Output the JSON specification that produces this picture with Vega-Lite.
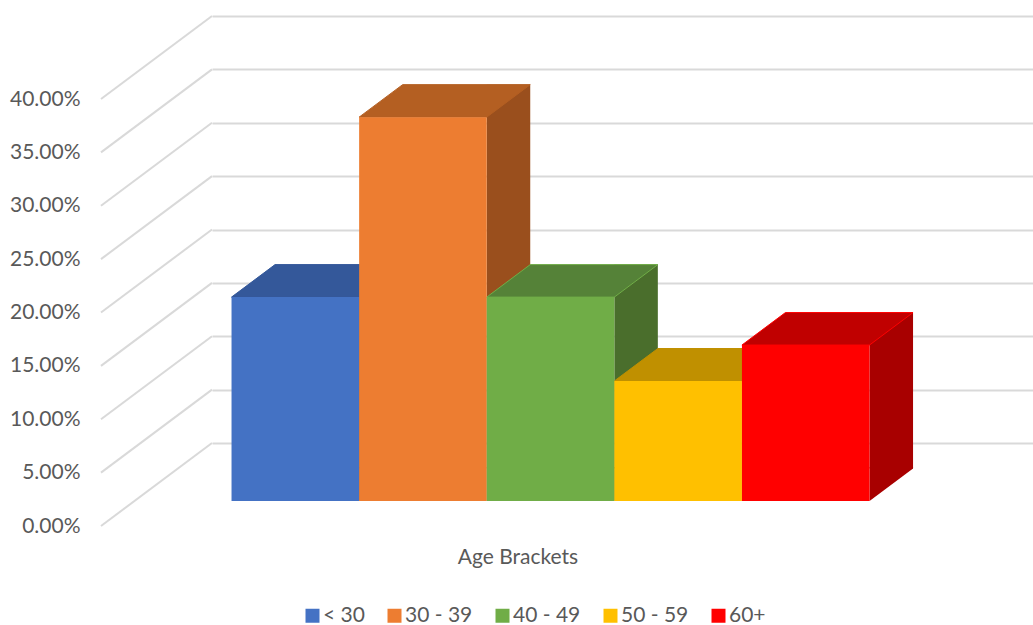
{
  "$schema": "https://vega.github.io/schema/vega-lite/v6.json",
  "width": 821,
  "height": 427,
  "autosize": "none",
  "padding": {"left": 212, "top": 16, "right": 0, "bottom": 182},
  "background": "white",
  "config": {"view": {"stroke": null}, "font": "Lato"},
  "layer": [
    {
      "description": "Side-wall lines running from the front value plane back to the wall",
      "data": {"values": [
        {"tick": 0}, {"tick": 0.05}, {"tick": 0.1}, {"tick": 0.15}, {"tick": 0.2},
        {"tick": 0.25}, {"tick": 0.3}, {"tick": 0.35}, {"tick": 0.4}
      ]},
      "mark": {"type": "rule", "color": "#D9D9D9", "strokeWidth": 2, "xOffset": -111, "yOffset": 83},
      "encoding": {
        "x": {"datum": 0, "type": "quantitative", "scale": {"domain": [0, 1]}, "axis": null},
        "x2": {"datum": 0},
        "y": {
          "field": "tick",
          "type": "quantitative",
          "scale": {"domain": [0, 0.4], "nice": false, "zero": true},
          "axis": {
            "title": null,
            "values": [0, 0.05, 0.1, 0.15, 0.2, 0.25, 0.3, 0.35, 0.4],
            "format": ".2%",
            "grid": true,
            "gridColor": "#D9D9D9",
            "gridWidth": 2,
            "ticks": false,
            "tickSize": 0,
            "domain": false,
            "labelFont": "Lato",
            "labelFontSize": 21,
            "labelColor": "#595959",
            "labelPadding": 132,
            "labelOffset": 83,
            "labelFlush": false,
            "labelOverlap": false,
            "labelBound": false
          }
        },
        "y2": {"field": "tick"}
      }
    },
    {
      "description": "Extruded columns: side faces, top faces, then front faces",
      "data": {"values": [
        {"bracket": "< 30", "share": 0.191},
        {"bracket": "30 - 39", "share": 0.3596},
        {"bracket": "40 - 49", "share": 0.191},
        {"bracket": "50 - 59", "share": 0.1124},
        {"bracket": "60+", "share": 0.1461}
      ]},
      "encoding": {
        "x": {
          "field": "bracket",
          "type": "nominal",
          "sort": null,
          "scale": {"paddingInner": 0, "paddingOuter": 0.717, "align": 0.533},
          "axis": {
            "title": "Age Brackets",
            "labels": false,
            "ticks": false,
            "domain": false,
            "grid": false,
            "titleFont": "Lato",
            "titleFontSize": 21,
            "titleFontWeight": "normal",
            "titleColor": "#595959",
            "titleX": 305.5,
            "titleY": 114,
            "titleBaseline": "middle",
            "titleAlign": "center"
          }
        }
      },
      "layer": [
        {
          "description": "Right-hand side faces (shaded)",
          "mark": {"type": "bar", "width": 43.5, "xOffset": 7.55, "yOffset": 25.5, "y2Offset": 25.5},
          "encoding": {
            "y": {"field": "share", "type": "quantitative"},
            "fill": {
              "condition": [
                {"test": "datum.bracket === '< 30'", "value": "#2C4A7E"},
                {"test": "datum.bracket === '30 - 39'", "value": "#9A4F1D"},
                {"test": "datum.bracket === '40 - 49'", "value": "#4A6E2C"},
                {"test": "datum.bracket === '50 - 59'", "value": "#A07800"}
              ],
              "value": "#A80000"
            }
          }
        },
        {
          "description": "Lower slanted corner of each side face",
          "mark": {
            "type": "point",
            "shape": "M0.638,-0.34L0.638,0L1.073,-0.325L1.073,-0.34Z",
            "size": 40000,
            "filled": true,
            "opacity": 1,
            "strokeWidth": 0,
            "xOffset": -78,
            "yOffset": 58
          },
          "encoding": {
            "y": {"datum": 0, "type": "quantitative"},
            "fill": {
              "condition": [
                {"test": "datum.bracket === '< 30'", "value": "#2C4A7E"},
                {"test": "datum.bracket === '30 - 39'", "value": "#9A4F1D"},
                {"test": "datum.bracket === '40 - 49'", "value": "#4A6E2C"},
                {"test": "datum.bracket === '50 - 59'", "value": "#A07800"}
              ],
              "value": "#A80000"
            }
          }
        },
        {
          "description": "Top faces",
          "mark": {
            "type": "point",
            "shape": "M-0.638,0L0.638,0L1.073,-0.325L-0.203,-0.325Z",
            "size": 40000,
            "filled": true,
            "opacity": 1,
            "strokeWidth": 1,
            "xOffset": -78,
            "yOffset": 58
          },
          "encoding": {
            "y": {"field": "share", "type": "quantitative"},
            "fill": {
              "condition": [
                {"test": "datum.bracket === '< 30'", "value": "#34589A"},
                {"test": "datum.bracket === '30 - 39'", "value": "#B45F22"},
                {"test": "datum.bracket === '40 - 49'", "value": "#558238"},
                {"test": "datum.bracket === '50 - 59'", "value": "#C09000"}
              ],
              "value": "#C00000"
            },
            "stroke": {
              "condition": [
                {"test": "datum.bracket === '< 30'", "value": "#34589A"},
                {"test": "datum.bracket === '30 - 39'", "value": "#B45F22"},
                {"test": "datum.bracket === '40 - 49'", "value": "#70AD47"},
                {"test": "datum.bracket === '50 - 59'", "value": "#C09000"}
              ],
              "value": "#FF0000"
            }
          }
        },
        {
          "description": "Front faces carry the values and the legend",
          "mark": {"type": "bar", "xOffset": -78, "x2Offset": -78, "yOffset": 58, "y2Offset": 58},
          "encoding": {
            "y": {"field": "share", "type": "quantitative"},
            "color": {
              "field": "bracket", "type": "nominal", "sort": null,
              "scale": {"domain": ["< 30", "30 - 39", "40 - 49", "50 - 59", "60+"],
                        "range": ["#4472C4", "#ED7D31", "#70AD47", "#FFC000", "#FF0000"]},
              "legend": {
                "orient": "none",
                "legendX": 90,
                "legendY": 589,
                "direction": "horizontal",
                "columns": 5,
                "title": null,
                "padding": 0,
                "symbolType": "square",
                "symbolSize": 196,
                "symbolStrokeWidth": 0,
                "symbolOpacity": 1,
                "labelFont": "Lato",
                "labelFontSize": 21,
                "labelColor": "#595959",
                "labelOffset": 0,
                "columnPadding": 19
              }
            }
          }
        }
      ]
    }
  ],
  "resolve": {"scale": {"x": "independent"}}
}
